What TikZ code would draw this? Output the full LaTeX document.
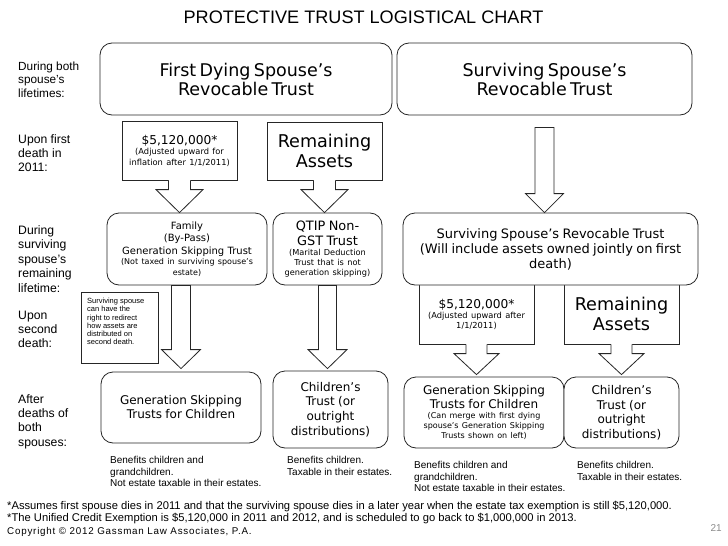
\documentclass[tikz,border=0pt]{standalone}
\usepackage{fontspec}
\setmainfont{Liberation Sans}
\newfontfamily\vf{DejaVu Sans}
\newfontfamily\spacedsans[LetterSpace=8]{Liberation Sans}
\usetikzlibrary{calc}
\newcommand\fsz[2]{\fontsize{#1}{#2}\selectfont}
\tikzset{
  ln/.style={draw=black!85, line width=0.8pt},
  rbox/.style={ln, fill=white, rounded corners=12pt, inner sep=0pt, align=center, font=\vf},
  cbox/.style={ln, fill=white, inner sep=0pt, align=center, font=\vf},
  lab/.style={anchor=west, align=left, inner sep=0pt},
}
% block arrow whose top is open (joined to a callout box)
\newcommand\openarrow[5]{%
  \fill[white] let \p1=#1, \p2=#2 in (\x2-#3,\y1+1.5pt) -- (\x2-#3,\y2+#5) -- (\x2-#4,\y2+#5) -- (\x2,\y2) -- (\x2+#4,\y2+#5) -- (\x2+#3,\y2+#5) -- (\x2+#3,\y1+1.5pt) -- cycle;
  \draw[ln, line join=miter] let \p1=#1, \p2=#2 in (\x2-#3,\y1) -- (\x2-#3,\y2+#5) -- (\x2-#4,\y2+#5) -- (\x2,\y2) -- (\x2+#4,\y2+#5) -- (\x2+#3,\y2+#5) -- (\x2+#3,\y1);
}
% closed block arrow
\newcommand\closedarrow[5]{%
  \draw[ln, fill=white, line join=miter] let \p1=#1, \p2=#2 in (\x2-#3,\y1) -- (\x2-#3,\y2+#5) -- (\x2-#4,\y2+#5) -- (\x2,\y2) -- (\x2+#4,\y2+#5) -- (\x2+#3,\y2+#5) -- (\x2+#3,\y1) -- cycle;
}
\begin{document}
\begin{tikzpicture}[x=1pt,y=-1pt]
\fill[white] (0,0) rectangle (728,546);
\useasboundingbox (0,0) rectangle (728,546);

\node[font=\fsz{18.1}{20}, inner sep=0pt] (title) at (363.5,17) {PROTECTIVE TRUST LOGISTICAL CHART};

% left labels
\node[lab, font=\fsz{11.8}{13.5}] (lab1) at (18,79.5) {During both\\spouse’s\\lifetimes:};
\node[lab, font=\fsz{12.2}{14}] (lab2) at (18,153) {Upon first\\death in\\2011:};
\node[lab, font=\fsz{12.2}{14.5}] (lab3) at (18,259) {During\\surviving\\spouse’s\\remaining\\lifetime:};
\node[lab, font=\fsz{12.2}{14}] (lab4) at (18,329) {Upon\\second\\death:};
\node[lab, font=\fsz{12.2}{14.3}] (lab5) at (18,421.5) {After\\deaths of\\both\\spouses:};

% top row
\node[rbox, minimum width=292pt, minimum height=72pt, text width=284pt] (top1) at (246,79)
  {\fsz{17.5}{19}First Dying Spouse’s\\Revocable Trust\par};
\node[rbox, minimum width=295pt, minimum height=72pt, text width=287pt] (top2) at (544.5,79)
  {\fsz{17.5}{19}Surviving Spouse’s\\Revocable Trust\par};

% first death callouts
\node[cbox, minimum width=115pt, minimum height=59pt, text width=111pt] (c1) at (179.5,150.5)
  {\fsz{12.2}{14}\$5,120,000*\par\fsz{8.3}{10.5}(Adjusted upward for\\inflation after 1/1/2011)\par};
\node[cbox, minimum width=115pt, minimum height=58pt, text width=111pt] (c2) at (324.5,151)
  {\fsz{17.6}{20}Remaining\\Assets\par};

% second row
\node[rbox, minimum width=160pt, minimum height=72pt, text width=154pt] (fam) at (187,249)
  {\fsz{10}{12.5}Family\\(By-Pass)\\Generation Skipping Trust\par\fsz{8}{10.5}(Not taxed in surviving spouse’s\\estate)\par};
\node[rbox, minimum width=109pt, minimum height=72pt, text width=105pt] (qtip) at (327.5,249)
  {\fsz{12.9}{15}QTIP Non-\\GST Trust\par\fsz{8.2}{10.2}(Marital Deduction\\Trust that is not\\generation skipping)\par};

\openarrow{(c1.south)}{(c1.south |- fam.north)}{11pt}{23.5pt}{23pt}
\openarrow{(c2.south)}{(c2.south |- qtip.north)}{11pt}{23.5pt}{23pt}

% second death callouts (tops hidden behind surviving trust box)
\node[cbox, minimum width=115pt, minimum height=60pt, text width=111pt] (c3) at (476.5,314)
  {\fsz{12.2}{14}\$5,120,000*\par\fsz{8.3}{10}(Adjusted upward after\\1/1/2011)\par};
\node[cbox, minimum width=115pt, minimum height=60pt, text width=111pt] (c4) at (621.5,314)
  {\fsz{17.6}{20}Remaining\\Assets\par};

\node[rbox, minimum width=295pt, minimum height=72pt, text width=291pt] (ss) at (550.5,249)
  {\fsz{13}{15}Surviving Spouse’s Revocable Trust\\(Will include assets owned jointly on first\\death)\par};

\closedarrow{($(top2.south)+(0,12)$)}{(top2.south |- ss.north)}{9.5pt}{19pt}{19pt}

% note
\node[ln, fill=white, minimum width=77pt, minimum height=71pt, inner sep=0pt] (note) at (119.5,327.5) {};
\node[lab, font=\fsz{7.5}{8.25}] (notetxt) at (87,321.5) {Surviving spouse\\can have the\\right to redirect\\how assets are\\distributed on\\second death.};

% bottom row
\node[rbox, minimum width=160pt, minimum height=71pt, text width=154pt] (gst1) at (181,407.5)
  {\fsz{12}{14}Generation Skipping\\Trusts for Children\par};
\node[rbox, minimum width=115pt, minimum height=77pt, text width=111pt] (ct1) at (330.5,409.5)
  {\fsz{12}{14.7}Children’s\\Trust (or\\outright\\distributions)\par};
\node[rbox, minimum width=160pt, minimum height=71pt, text width=156pt] (gst2) at (484,412.5)
  {\fsz{12}{14.5}Generation Skipping\\Trusts for Children\par\fsz{8}{10}(Can merge with first dying\\spouse’s Generation Skipping\\Trusts shown on left)\par};
\node[rbox, minimum width=115pt, minimum height=71pt, text width=111pt] (ct2) at (621.5,412.5)
  {\fsz{12}{14.5}Children’s\\Trust (or\\outright\\distributions)\par};

\closedarrow{(gst1.north |- fam.south)}{($(gst1.north)+(0,-3)$)}{9.5pt}{19.5pt}{19pt}
\closedarrow{(qtip.south)}{($(qtip.south |- ct1.north)+(0,-2)$)}{9pt}{19.5pt}{19pt}
\openarrow{(c3.south)}{($(c3.south |- gst2.north)+(0,-2)$)}{10.5pt}{22.5pt}{21pt}
\openarrow{(c4.south)}{($(c4.south |- ct2.north)+(0,-2)$)}{10.5pt}{22.5pt}{21pt}

% captions
\node[lab, font=\fsz{10}{11.7}] (cap1) at (110,471.5) {Benefits children and\\grandchildren.\\Not estate taxable in their estates.};
\node[lab, font=\fsz{10}{11.7}] (cap2) at (287,466) {Benefits children.\\Taxable in their estates.};
\node[lab, font=\fsz{10}{11.7}] (cap3) at (414,476.5) {Benefits children and\\grandchildren.\\Not estate taxable in their estates.};
\node[lab, font=\fsz{10}{11.7}] (cap4) at (577,471) {Benefits children.\\Taxable in their estates.};

% footnotes
\node[lab, font=\fsz{11.2}{12}] (foot) at (7,513) {*Assumes first spouse dies in 2011 and that the surviving spouse dies in a later year when the estate tax exemption is still \$5,120,000.\\*The Unified Credit Exemption is \$5,120,000 in 2011 and 2012, and is scheduled to go back to \$1,000,000 in 2013.};
\node[lab, font=\spacedsans\fsz{9.8}{11}] (copy) at (7,532) {Copyright © 2012 Gassman Law Associates, P.A.};
\node[anchor=east, inner sep=0pt, font=\fsz{10}{12}, text=black!45] (page) at (722,528) {21};
\end{tikzpicture}
\end{document}
